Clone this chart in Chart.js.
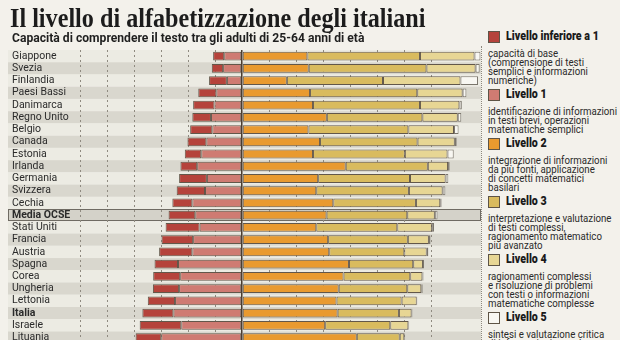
<!DOCTYPE html>
<html lang="it">
<head>
<meta charset="utf-8">
<script src="https://cdn.jsdelivr.net/npm/chart.js@4.4.1/dist/chart.umd.min.js"></script>
<style>
  html, body { margin: 0; padding: 0; background: #f3f1eb; }
  #wrap { position: relative; width: 620px; height: 340px; overflow: hidden; background: #f3f1eb; }
  #title {
    position: absolute; left: 10px; top: 3px; margin: 0; z-index: 2;
    font-family: "Liberation Serif", "DejaVu Serif", serif; font-weight: bold;
    font-size: 27px; color: #1c1c1c; white-space: nowrap;
    transform: scaleX(0.895); transform-origin: left top;
  }
  #subtitle {
    position: absolute; left: 12px; top: 30px; z-index: 2;
    font-family: Roboto, "Noto Sans", sans-serif; font-weight: bold;
    font-size: 12.5px; color: #1f1f1f; white-space: nowrap;
    transform: scaleX(0.97); transform-origin: left top;
  }
  #chartBox { position: absolute; left: 0; top: 0; width: 481px; height: 350px; }
  #legend {
    position: absolute; left: 481px; top: 46px; width: 139px; height: 300px;
    border-left: 1px dotted #8d887e;
  }
  #legendList { position: absolute; left: 6px; top: -15px; width: 140px; }
  .item { margin-bottom: 4px; }
  .head { height: 18px; position: relative; }
  .swatch { position: absolute; left: 0; top: 0; width: 10px; height: 10px; border: 1px solid #5e5446; }
  .name {
    position: absolute; left: 18px; top: -3px; white-space: nowrap;
    font-family: Roboto, sans-serif; font-weight: 900; font-size: 13px; color: #1a1a1a;
    transform: scaleX(0.82); transform-origin: left top;
  }
  .note {
    font-family: Roboto, sans-serif; font-size: 10.5px; line-height: 9px; color: #2a2a2a;
    white-space: nowrap; transform: scaleX(0.92); transform-origin: left top;
  }
</style>
</head>
<body>
<div id="wrap">
  <h1 id="title">Il livello di alfabetizzazione degli italiani</h1>
  <div id="subtitle">Capacità di comprendere il testo tra gli adulti di 25-64 anni di età</div>
  <div id="chartBox"><canvas id="literacyChart"></canvas></div>
  <div id="legend"><div id="legendList"></div></div>
</div>
<script>
// paesi, dall'alto verso il basso
const countries = ['Giappone', 'Svezia', 'Finlandia', 'Paesi Bassi', 'Danimarca', 'Regno Unito',
  'Belgio', 'Canada', 'Estonia', 'Irlanda', 'Germania', 'Svizzera', 'Cechia', 'Media OCSE',
  'Stati Uniti', 'Francia', 'Austria', 'Spagna', 'Corea', 'Ungheria', 'Lettonia', 'Italia',
  'Israele', 'Lituania'];

// quote percentuali per livello
const below1 = [4.1, 4.2, 6.6, 6.7, 7.9, 6.9, 8.2, 7.0, 6.1, 6.2, 10.3, 10.5, 7.4, 9.9,
  12.6, 11.7, 12.3, 8.7, 10.0, 9.7, 10.1, 11.5, 15.4, 9.5];
const level1 = [6.6, 7.0, 5.6, 9.5, 10.2, 11.5, 11.0, 13.2, 15.1, 16.6, 13.0, 13.7, 18.4, 17.3,
  15.7, 18.1, 18.4, 23.7, 22.9, 23.3, 24.8, 25.4, 22.5, 29.9];
const level2 = [24.2, 24.7, 16.6, 25.2, 26.3, 31.4, 24.6, 28.9, 26.3, 38.4, 28.2, 27.5, 33.8, 31.3,
  27.5, 31.9, 32.3, 39.6, 37.6, 35.8, 35.0, 35.4, 30.8, 42.5];
const level3 = [41.7, 43.6, 35.6, 39.7, 39.6, 35.4, 37.0, 36.1, 34.0, 30.4, 34.0, 34.3, 30.6, 29.9,
  30.0, 29.5, 27.8, 23.8, 24.7, 25.4, 24.1, 22.7, 24.1, 15.9];
const level4 = [20.2, 18.2, 28.7, 16.8, 14.6, 13.1, 16.9, 13.8, 15.8, 7.5, 13.2, 12.5, 9.0, 10.2,
  12.8, 7.8, 8.3, 3.6, 4.5, 5.2, 5.6, 4.7, 6.7, 1.7];
const level5 = [2.2, 1.5, 6.5, 1.4, 0.9, 1.3, 1.7, 0.7, 2.3, 0.6, 1.0, 1.0, 0.5, 1.0,
  0.8, 0.6, 0.6, 0.4, 0.4, 0.5, 0.2, 0.3, 0.3, 0.3];

const legendLabels = ['Livello inferiore a 1', 'Livello 1', 'Livello 2', 'Livello 3', 'Livello 4', 'Livello 5'];
const legendNotes = [
  ['capacità di base', '(comprensione di testi', 'semplici e informazioni', 'numeriche)'],
  ['identificazione di informazioni', 'in testi brevi, operazioni', 'matematiche semplici'],
  ['integrazione di informazioni', 'da più fonti, applicazione', 'di concetti matematici', 'basilari'],
  ['interpretazione e valutazione', 'di testi complessi,', 'ragionamento matematico', 'più avanzato'],
  ['ragionamenti complessi', 'e risoluzione di problemi', 'con testi o informazioni', 'matematiche complesse'],
  ['sintesi e valutazione critica', 'di informazioni complesse']
];
const levelColors = ['#b5433b', '#cf7b72', '#e99a2f', '#d9bb5e', '#e7d694', '#f8f7f2'];
const boldRows = ['Media OCSE', 'Italia'];

// legenda a destra
const list = document.getElementById('legendList');
legendLabels.forEach((lab, i) => {
  const item = document.createElement('div');
  item.className = 'item';
  item.innerHTML = '<div class="head"><span class="swatch" style="background:' + levelColors[i] + '"></span>' +
    '<span class="name">' + lab + '</span></div>' +
    '<div class="note">' + legendNotes[i].join('<br>') + '</div>';
  list.appendChild(item);
});

// fasce alternate e riquadro media OCSE
const rowStripes = {
  id: 'rowStripes',
  beforeDraw(chart) {
    const { ctx, scales: { y } } = chart;
    const h = y.height / countries.length;
    ctx.save();
    countries.forEach((c, i) => {
      const top = y.getPixelForValue(i) - h / 2;
      if (c === 'Media OCSE') {
        ctx.fillStyle = '#d4d2c9';
        ctx.fillRect(8, top, 473, h);
        ctx.strokeStyle = '#6f6b63';
        ctx.lineWidth = 1;
        ctx.strokeRect(8.5, Math.round(top) + 0.5, 472, Math.round(h) - 1);
      } else {
        ctx.fillStyle = i % 2 === 0 ? '#ecebe3' : '#d9d7ce';
        ctx.fillRect(8, top, 473, h);
      }
    });
    ctx.restore();
  }
};

const neg = arr => arr.map(v => -v);
const barBase = { borderColor: '#62574a', borderWidth: 1, borderSkipped: false, barPercentage: 0.72, categoryPercentage: 1 };

const data = {
  labels: countries,
  datasets: [
    { ...barBase, label: legendLabels[1], data: neg(level1), backgroundColor: levelColors[1] },
    { ...barBase, label: legendLabels[0], data: neg(below1), backgroundColor: levelColors[0] },
    { ...barBase, label: legendLabels[2], data: level2, backgroundColor: levelColors[2] },
    { ...barBase, label: legendLabels[3], data: level3, backgroundColor: levelColors[3] },
    { ...barBase, label: legendLabels[4], data: level4, backgroundColor: levelColors[4] },
    { ...barBase, label: legendLabels[5], data: level5, backgroundColor: levelColors[5], borderColor: '#7a756c' }
  ]
};

const isZero = ctx => ctx.tick && ctx.tick.value === 0;

const config = {
  type: 'bar',
  data,
  plugins: [rowStripes],
  options: {
    indexAxis: 'y',
    responsive: true,
    maintainAspectRatio: false,
    animation: false,
    layout: { padding: { top: 50, left: 12, right: 0, bottom: 3.5 } },
    plugins: { legend: { display: false }, tooltip: { enabled: false } },
    scales: {
      x: {
        stacked: true,
        min: -60,
        max: 88.5,
        border: { display: false, dash: ctx => isZero(ctx) ? [] : [2, 3] },
        ticks: { display: false, stepSize: 10 },
        grid: {
          drawTicks: false,
          tickLength: 0,
          lineWidth: ctx => isZero(ctx) ? 1.5 : 1,
          color: ctx => {
            if (!ctx.tick) return 'transparent';
            if (ctx.tick.value === 0) return '#4a3d30';
            return ctx.tick.value % 10 === 0 ? '#8f8a80' : 'transparent';
          }
        },
        afterFit: scale => { scale.height = 0; }
      },
      y: {
        stacked: true,
        border: { display: false },
        grid: { display: false },
        afterFit: scale => { scale.width = 68; },
        ticks: {
          crossAlign: 'far',
          padding: 0,
          color: '#2b2b2b',
          autoSkip: false,
          font: ctx => ({
            family: 'Roboto, "Noto Sans", sans-serif',
            size: 10.5,
            weight: boldRows.includes(countries[ctx.index]) ? 'bold' : 'normal'
          })
        }
      }
    }
  }
};

const canvas = document.getElementById('literacyChart');
new Chart(canvas.getContext('2d'), config);
</script>
</body>
</html>
